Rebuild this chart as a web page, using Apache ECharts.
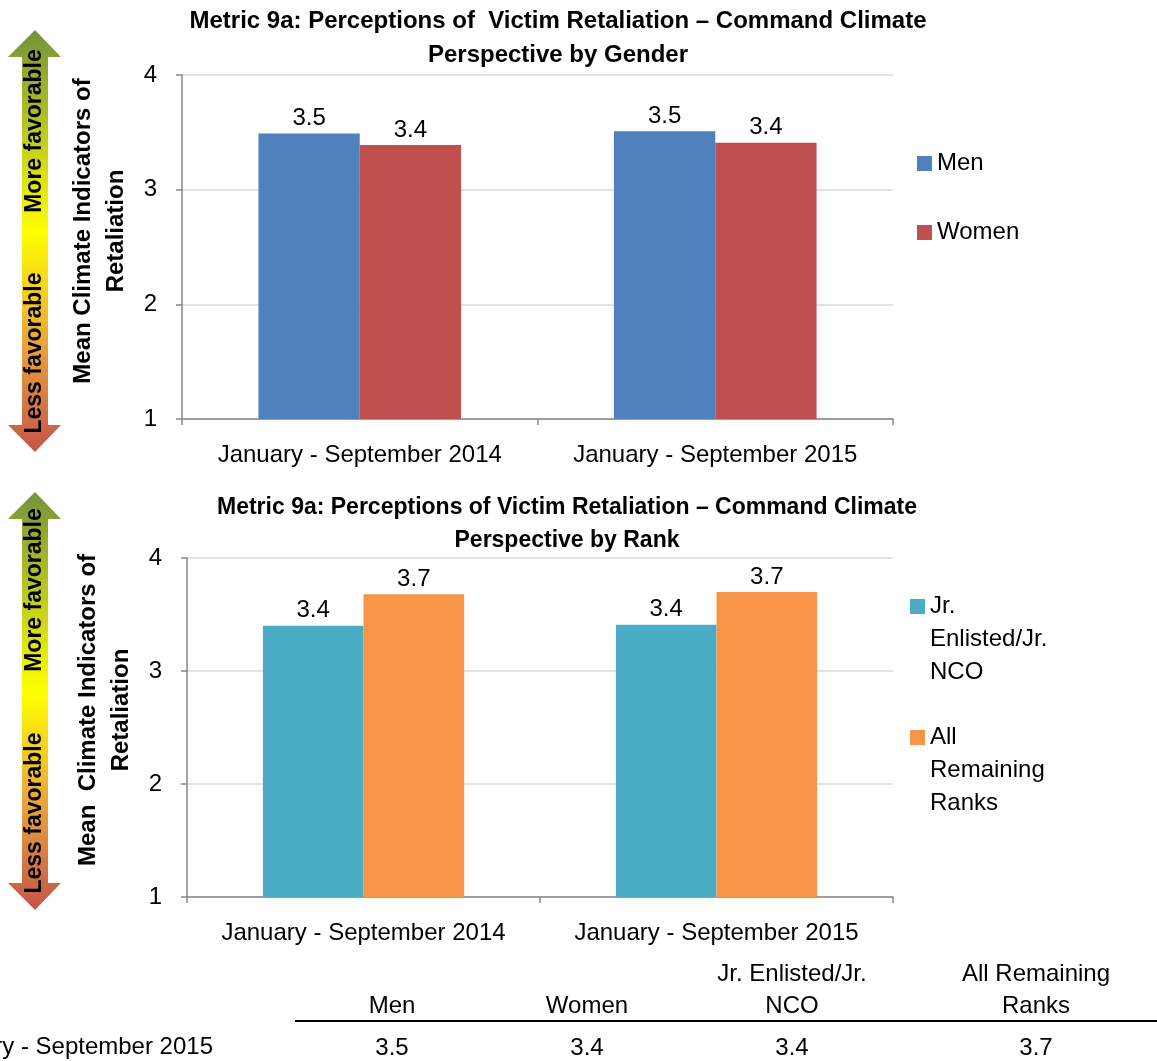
<!DOCTYPE html>
<html>
<head>
<meta charset="utf-8">
<script src="https://cdn.jsdelivr.net/npm/echarts@6/dist/echarts.min.js"></script>
<style>
html,body{margin:0;padding:0;background:#fff;}
#chart{width:1157px;height:1061px;}
</style>
</head>
<body>
<div id="chart"></div>
<script>
// ---- data ----
const periods = ['January - September 2014', 'January - September 2015'];
const menValues = [3.49, 3.51];
const womenValues = [3.39, 3.41];
const jrValues = [3.40, 3.41];
const remainingValues = [3.68, 3.70];
const genderNames = ['Men', 'Women'];
const rankNames = ['Jr. Enlisted/Jr. NCO', 'All Remaining Ranks'];
const rankLegendLabels = ['Jr.\nEnlisted/Jr.\nNCO', 'All\nRemaining\nRanks'];
const yTicks = [1, 2, 3, 4];
const tableHeaders = ['Men', 'Women', 'Jr. Enlisted/Jr.\nNCO', 'All Remaining\nRanks'];
const tableRowLabel = 'January - September 2015';
const tableValues = [menValues[1], womenValues[1], jrValues[1], remainingValues[1]];

const SANS = "'Liberation Sans',Arial,sans-serif";

const chart = echarts.init(document.getElementById('chart'), null, {renderer: 'canvas'});

function yAxis(gridIndex, name, gap, shift) {
  return {
    type: 'value', gridIndex: gridIndex, min: yTicks[0], max: yTicks[yTicks.length - 1], interval: 1,
    axisLine: {show: true, lineStyle: {color: '#868686', width: 1.5}},
    axisTick: {show: true, length: 6, lineStyle: {color: '#868686', width: 1.5}},
    splitLine: {show: true, lineStyle: {color: '#D9D9D9', width: 1.5}},
    axisLabel: {margin: 25, fontFamily: SANS, fontSize: 24, color: '#000'},
    name: name,
    nameLocation: 'middle', nameGap: gap, nameRotate: 90,
    nameTextStyle: {fontFamily: SANS, fontWeight: 'bold', fontSize: 24, color: '#000', lineHeight: 33, align: 'center', padding: [0, 0, 0, shift]}
  };
}
function xAxis(gridIndex) {
  return {
    type: 'category', gridIndex: gridIndex, data: periods,
    axisLine: {show: true, lineStyle: {color: '#868686', width: 1.5}},
    axisTick: {show: true, length: 6, lineStyle: {color: '#868686', width: 1.5}},
    axisLabel: {margin: 24, interval: 0, fontFamily: SANS, fontSize: 24, color: '#000'}
  };
}
const labelCfg = {show: true, position: 'top', distance: 3, fontFamily: SANS, fontSize: 24, color: '#000',
  formatter: p => p.value.toFixed(1)};

function arrow(yTop, yBot) {
  return {
    type: 'polygon',
    shape: {points: [[35, yTop], [61, yTop + 27], [48, yTop + 27], [48, yBot - 27], [61, yBot - 27], [35, yBot],
      [8, yBot - 27], [22, yBot - 27], [22, yTop + 27], [8, yTop + 27]]},
    style: {fill: new echarts.graphic.LinearGradient(0, 0, 0, 1, [
      {offset: 0, color: '#76923C'}, {offset: 0.48, color: '#FFFF00'}, {offset: 0.75, color: '#E9A23B'}, {offset: 1, color: '#C4544A'}])}
  };
}
function vtext(txt, x, y) {
  return {type: 'text', x: x, y: y, rotation: Math.PI / 2,
    style: {text: txt, fontFamily: SANS, fontWeight: 'bold', fontSize: 23, fill: '#000', align: 'center', verticalAlign: 'middle'}};
}

const tableX = [392, 587, 792, 1036];
const graphics = [
  arrow(30, 452), vtext('More favorable', 35, 131), vtext('Less favorable', 35, 353),
  arrow(492, 910), vtext('More favorable', 35, 590), vtext('Less favorable', 35, 813),
  {type: 'line', shape: {x1: 295, y1: 1021, x2: 1157, y2: 1021}, style: {stroke: '#000', lineWidth: 2}},
  {type: 'text', x: 213, y: 1047, style: {text: tableRowLabel, fontFamily: SANS, fontSize: 24, fill: '#000', align: 'right', verticalAlign: 'middle'}}
];
tableHeaders.forEach((h, i) => {
  graphics.push({type: 'text', x: tableX[i], y: 1022, style: {text: h, fontFamily: SANS, fontSize: 24, lineHeight: 32, fill: '#000', align: 'center', verticalAlign: 'bottom'}});
  graphics.push({type: 'text', x: tableX[i], y: 1048, style: {text: tableValues[i].toFixed(1), fontFamily: SANS, fontSize: 24, fill: '#000', align: 'center', verticalAlign: 'middle'}});
});

const option = {
  backgroundColor: '#fff',
  animation: false,
  title: [
    {text: 'Metric 9a: Perceptions of  Victim Retaliation \u2013 Command Climate\nPerspective by Gender', left: 558, top: 4, padding: 0, textAlign: 'center',
      textStyle: {fontFamily: SANS, fontWeight: 'bold', fontSize: 24, lineHeight: 34, color: '#000'}},
    {text: 'Metric 9a: Perceptions of Victim Retaliation \u2013 Command Climate\nPerspective by Rank', left: 567, top: 491, padding: 0, textAlign: 'center',
      textStyle: {fontFamily: SANS, fontWeight: 'bold', fontSize: 23, lineHeight: 33, color: '#000'}}
  ],
  legend: [
    {data: genderNames, orient: 'vertical', left: 917, top: 147, itemWidth: 15, itemHeight: 15, itemGap: 36, icon: 'rect', selectedMode: false, padding: 0,
      textStyle: {fontFamily: SANS, fontSize: 24, lineHeight: 33, color: '#000'}},
    {data: rankNames, orient: 'vertical', left: 910, top: 524, itemWidth: 15, itemHeight: 15, itemGap: -34, icon: 'rect', selectedMode: false, padding: 0,
      formatter: n => '\n\n' + rankLegendLabels[rankNames.indexOf(n)],
      textStyle: {fontFamily: SANS, fontSize: 24, lineHeight: 33, color: '#000'}}
  ],
  grid: [
    {left: 182, right: 264, top: 75, height: 344},
    {left: 187, right: 264, top: 558, height: 339}
  ],
  xAxis: [xAxis(0), xAxis(1)],
  yAxis: [yAxis(0, 'Mean Climate Indicators of\nRetaliation', 35, 32), yAxis(1, 'Mean  Climate Indicators of\nRetaliation', 46, 35)],
  series: [
    {name: genderNames[0], type: 'bar', xAxisIndex: 0, yAxisIndex: 0, data: menValues, itemStyle: {color: '#4F81BD'}, barGap: '0%', barCategoryGap: '43%', label: labelCfg},
    {name: genderNames[1], type: 'bar', xAxisIndex: 0, yAxisIndex: 0, data: womenValues, itemStyle: {color: '#C0504D'}, barGap: '0%', barCategoryGap: '43%', label: labelCfg},
    {name: rankNames[0], type: 'bar', xAxisIndex: 1, yAxisIndex: 1, data: jrValues, itemStyle: {color: '#4BACC6'}, barGap: '0%', barCategoryGap: '43%', label: labelCfg},
    {name: rankNames[1], type: 'bar', xAxisIndex: 1, yAxisIndex: 1, data: remainingValues, itemStyle: {color: '#F79646'}, barGap: '0%', barCategoryGap: '43%', label: labelCfg}
  ],
  graphic: graphics
};
chart.setOption(option);
</script>
</body>
</html>
